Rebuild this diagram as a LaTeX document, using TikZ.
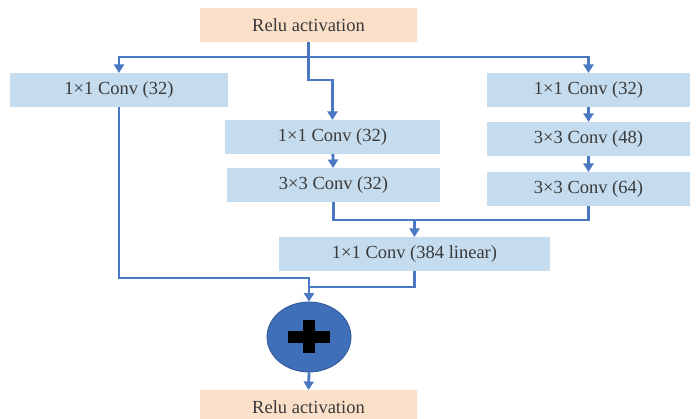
\documentclass[tikz,border=0pt]{standalone}
\usepackage{fontspec}
\setmainfont{Liberation Serif}
\usetikzlibrary{arrows.meta,shapes.geometric}
\definecolor{convfill}{HTML}{C5DCEE}
\definecolor{relufill}{HTML}{FBE0C9}
\definecolor{flow}{HTML}{4A78C2}
\definecolor{txt}{HTML}{3A3A3A}
\definecolor{addfill}{HTML}{3F6FB8}
\definecolor{addedge}{HTML}{2F5597}
\begin{document}
\begin{tikzpicture}[x=1pt,y=-1pt,
  box/.style={inner sep=0pt, outer sep=0pt, text=txt,
    font=\fontsize{18.5}{21}\selectfont, minimum height=34pt},
  conv/.style={box, fill=convfill},
  relu/.style={box, fill=relufill, minimum width=217pt},
  flowline/.style={draw=flow, line width=2.8pt},
  arr/.style={flowline, -{Triangle[width=10pt,length=8.5pt]}},
]
\useasboundingbox (0,0) rectangle (696,419);

% layers
\node[relu] (reluin) at (308.5,25) {Relu activation};
\node[conv, minimum width=218pt] (c1) at (119,90) {1×1 Conv (32)};
\node[conv, minimum width=215pt] (m1) at (332.5,137) {1×1 Conv (32)};
\node[conv, minimum width=213pt] (m2) at (333.5,185) {3×3 Conv (32)};
\node[conv, minimum width=203pt] (r1) at (588.5,90) {1×1 Conv (32)};
\node[conv, minimum width=203pt] (r2) at (588.5,139) {3×3 Conv (48)};
\node[conv, minimum width=203pt] (r3) at (588.5,189) {3×3 Conv (64)};
\node[conv, minimum width=271pt] (lin) at (414.5,254) {1×1 Conv (384 linear)};
\node[ellipse, fill=addfill, draw=addedge, line width=0.8pt,
  minimum width=84pt, minimum height=70pt, inner sep=0pt] (add) at (309,337) {};
\node[relu] (reluout) at (308.5,407) {Relu activation};

% plus sign inside the sum node
\fill[black] ([shift={(-21,-6)}]add.center) rectangle ([shift={(21,6)}]add.center);
\fill[black] ([shift={(-6,-16.5)}]add.center) rectangle ([shift={(6,16.5)}]add.center);

% split into three branches
\coordinate (split) at (reluin.south |- 0,57);
\draw[flowline] (reluin.south) -- (split);
\draw[arr] (split) -| (c1.north);
\draw[arr] (split) -| (r1.north);
\draw[arr] (split) -- ++(0,23) -| (m1.north);

% branch chains
\draw[arr] (m1) -- (m2);
\draw[arr] (r1) -- (r2);
\draw[arr] (r2) -- (r3);

% concatenate into the linear projection
\coordinate (merge) at (lin.north |- 0,220);
\draw[flowline] (m2.south) |- (merge);
\draw[flowline] (r3.south) |- (merge);
\draw[arr] (merge) -- (lin.north);

% residual sum
\coordinate (addjoin) at (add.north |- 0,287);
\draw[flowline] (c1.south) |- (add.north |- 0,278) -- (addjoin);
\draw[flowline] (lin.south) |- (addjoin);
\draw[arr] (addjoin) -- (add.north);
\draw[arr] (add.south) -- (reluout.north);
\end{tikzpicture}
\end{document}
